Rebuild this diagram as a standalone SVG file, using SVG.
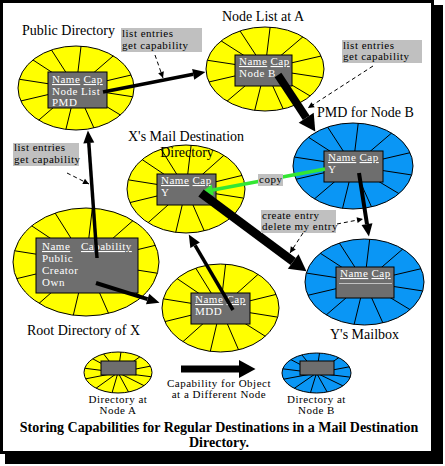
<svg xmlns="http://www.w3.org/2000/svg" xmlns:xlink="http://www.w3.org/1999/xlink" width="445" height="466" viewBox="0 0 445 466">
<style>
.lbl{font-family:"Liberation Serif","Times New Roman",serif;font-size:14px;fill:#000}
.sm{font-family:"Liberation Serif","Times New Roman",serif;font-size:11px;letter-spacing:0.5px;fill:#000}
.bx{font-family:"Liberation Serif","Times New Roman",serif;font-size:11px;letter-spacing:0.5px;fill:#fff}
.ttl{font-family:"Liberation Serif","Times New Roman",serif;font-size:14px;font-weight:bold;fill:#000}
.u{text-decoration:underline}
.yel{fill:#ffff00;stroke:#000;stroke-width:1}
.blu{fill:#0a96f5;stroke:#000;stroke-width:1}
.box{fill:#6e6e6e;stroke:#000;stroke-width:1}
.note{fill:#c0c0c0}
.arr{stroke:#000;fill:none}
.lead{stroke:#000;stroke-width:1;stroke-dasharray:4 3;fill:none}
</style>
<defs>
<g id="sp" stroke="#000" stroke-width="1">
<line x1="0" y1="0" x2="-0.423" y2="-0.906" vector-effect="non-scaling-stroke"/>
<line x1="0" y1="0" x2="0.087" y2="-0.996" vector-effect="non-scaling-stroke"/>
<line x1="0" y1="0" x2="0.643" y2="-0.766" vector-effect="non-scaling-stroke"/>
<line x1="0" y1="0" x2="0.951" y2="-0.309" vector-effect="non-scaling-stroke"/>
<line x1="0" y1="0" x2="0.978" y2="0.208" vector-effect="non-scaling-stroke"/>
<line x1="0" y1="0" x2="0.766" y2="0.643" vector-effect="non-scaling-stroke"/>
<line x1="0" y1="0" x2="0.309" y2="0.951" vector-effect="non-scaling-stroke"/>
<line x1="0" y1="0" x2="-0.174" y2="0.985" vector-effect="non-scaling-stroke"/>
<line x1="0" y1="0" x2="-0.643" y2="0.766" vector-effect="non-scaling-stroke"/>
<line x1="0" y1="0" x2="-0.951" y2="0.309" vector-effect="non-scaling-stroke"/>
<line x1="0" y1="0" x2="-0.978" y2="-0.208" vector-effect="non-scaling-stroke"/>
<line x1="0" y1="0" x2="-0.743" y2="-0.669" vector-effect="non-scaling-stroke"/>
</g>
<marker id="ah" markerUnits="userSpaceOnUse" orient="auto" markerWidth="20" markerHeight="20" refX="0" refY="0" viewBox="-1 -10 20 20" overflow="visible">
<path d="M0,-5.5 L12.5,0 L0,5.5 Z" fill="#000"/>
</marker>
<marker id="ahb" markerUnits="userSpaceOnUse" orient="auto" markerWidth="24" markerHeight="24" refX="0" refY="0" viewBox="-1 -12 24 24" overflow="visible">
<path d="M0,-9 L16.5,0 L0,9 Z" fill="#000"/>
</marker>
<marker id="ahg" markerUnits="userSpaceOnUse" orient="auto" markerWidth="20" markerHeight="20" refX="0" refY="0" viewBox="-1 -10 20 20" overflow="visible">
<path d="M0,-5.5 L11.5,0 L0,5.5 Z" fill="#33e633"/>
</marker>
<marker id="ahs" markerUnits="userSpaceOnUse" orient="auto" markerWidth="12" markerHeight="12" refX="0" refY="0" viewBox="-1 -6 12 12" overflow="visible">
<path d="M-6,-3 L0,0 L-6,3 Z" fill="#000"/>
</marker>
</defs>

<!-- frame -->
<rect x="5" y="5" width="438" height="459" fill="#000"/>
<rect x="1.5" y="1.5" width="431" height="451" fill="#fff" stroke="#000" stroke-width="3"/>

<g id="public-directory">
<ellipse class="yel" cx="76" cy="88" rx="58" ry="42"/>
<use xlink:href="#sp" href="#sp" transform="translate(76 88) scale(58 42)"/>
<rect class="box" x="48" y="72" width="59" height="36"/>
<text class="bx" x="52" y="83"><tspan class="u">Name</tspan> <tspan class="u">Cap</tspan></text>
<text class="bx" x="52" y="95">Node List</text>
<text class="bx" x="52" y="106">PMD</text>
<text class="lbl" x="22" y="35">Public Directory</text>
</g>

<g id="node-list-a">
<ellipse class="yel" cx="265" cy="69" rx="59" ry="42"/>
<use xlink:href="#sp" href="#sp" transform="translate(265 69) scale(59 42)"/>
<rect class="box" x="235" y="55" width="57" height="31"/>
<text class="bx" x="239" y="65"><tspan class="u">Name</tspan> <tspan class="u">Cap</tspan></text>
<text class="bx" x="239" y="77">Node B</text>
<text class="lbl" x="222" y="21">Node List at A</text>
</g>

<g id="pmd-node-b">
<ellipse class="blu" cx="353" cy="166" rx="60" ry="43"/>
<use xlink:href="#sp" href="#sp" transform="translate(353 166) scale(60 43)"/>
<rect class="box" x="324" y="151" width="59" height="31"/>
<text class="bx" x="328" y="161"><tspan class="u">Name</tspan> <tspan class="u">Cap</tspan></text>
<text class="bx" x="328" y="173">Y</text>
<text class="lbl" x="317" y="117">PMD for Node B</text>
</g>

<g id="x-mail-destination-directory">
<ellipse class="yel" cx="186" cy="189" rx="59" ry="44"/>
<use xlink:href="#sp" href="#sp" transform="translate(186 189) scale(59 44)"/>
<rect class="box" x="157" y="174" width="59" height="31"/>
<text class="bx" x="161" y="184"><tspan class="u">Name</tspan> <tspan class="u">Cap</tspan></text>
<text class="bx" x="161" y="196">Y</text>
<text class="lbl" x="128" y="141">X's Mail Destination</text>
<text class="lbl" x="187" y="157" text-anchor="middle">Directory</text>
</g>

<g id="root-directory-x">
<ellipse class="yel" cx="86" cy="262" rx="73" ry="54"/>
<use xlink:href="#sp" href="#sp" transform="translate(86 262) scale(73 54)"/>
<rect class="box" x="36" y="238" width="102" height="55"/>
<text class="bx" x="42" y="250"><tspan class="u">Name</tspan></text>
<text class="bx" x="81" y="250"><tspan class="u">Capability</tspan></text>
<text class="bx" x="42" y="262">Public</text>
<text class="bx" x="42" y="274" letter-spacing="0.8">Creator</text>
<text class="bx" x="42" y="286" letter-spacing="1">Own</text>
<text class="lbl" x="27" y="335">Root Directory of X</text>
</g>

<g id="mdd">
<ellipse class="yel" cx="220.5" cy="308" rx="58.5" ry="44"/>
<use xlink:href="#sp" href="#sp" transform="translate(220.5 308) scale(58.5 44)"/>
<rect class="box" x="191" y="293" width="59" height="31"/>
<text class="bx" x="195" y="303"><tspan class="u">Name</tspan> <tspan class="u">Cap</tspan></text>
<text class="bx" x="195" y="315" letter-spacing="1">MDD</text>
</g>

<g id="y-mailbox">
<ellipse class="blu" cx="364.5" cy="282" rx="59.5" ry="43"/>
<use xlink:href="#sp" href="#sp" transform="translate(364.5 282) scale(59.5 43)"/>
<rect class="box" x="336" y="267" width="58" height="31"/>
<text class="bx" x="340" y="277"><tspan class="u">Name</tspan> <tspan class="u">Cap</tspan></text>
<line x1="339" y1="283.5" x2="392" y2="283.5" stroke="#d8d8d8" stroke-width="0.8"/>
<text class="lbl" x="330" y="339">Y's Mailbox</text>
</g>

<g id="connectors">
<line class="arr" x1="103" y1="92" x2="193.2" y2="74.3" stroke-width="3.5" marker-end="url(#ah)"/>
<line class="arr" x1="278" y1="75" x2="306.2" y2="117.7" stroke-width="8" marker-end="url(#ahb)"/>
<line class="arr" x1="359" y1="173" x2="367" y2="224.2" stroke-width="4" marker-end="url(#ah)"/>
<line x1="325" y1="169" x2="212.8" y2="190" stroke="#33e633" stroke-width="3.5" marker-end="url(#ahg)"/>
<line class="arr" x1="201" y1="193" x2="293.2" y2="261.5" stroke-width="9" marker-end="url(#ahb)"/>
<line class="arr" x1="233" y1="310" x2="195.1" y2="245.3" stroke-width="3.5" marker-end="url(#ah)"/>
<line class="arr" x1="97" y1="258" x2="88.8" y2="143" stroke-width="3.5" marker-end="url(#ah)"/>
<line class="arr" x1="96" y1="283" x2="147.6" y2="299.1" stroke-width="4" marker-end="url(#ah)"/>
<line class="lead" x1="155" y1="55" x2="163" y2="78" marker-end="url(#ahs)"/>
<line class="lead" x1="373" y1="66" x2="308" y2="108" marker-end="url(#ahs)"/>
<line class="lead" x1="67" y1="173" x2="89" y2="184" marker-end="url(#ahs)"/>
<line class="lead" x1="337" y1="224" x2="363" y2="219" marker-end="url(#ahs)"/>
<line class="lead" x1="303" y1="233" x2="290" y2="253" marker-end="url(#ahs)"/>
</g>

<g id="notes">
<rect class="note" x="121" y="28" width="81" height="24"/>
<text class="sm" x="122" y="37">list entries</text>
<text class="sm" x="122" y="49">get capability</text>
<rect class="note" x="342" y="40" width="80" height="23"/>
<text class="sm" x="343" y="49">list entries</text>
<text class="sm" x="343" y="60">get capability</text>
<rect class="note" x="13" y="143" width="66" height="23"/>
<text class="sm" x="14" y="151" letter-spacing="0.2">list entries</text>
<text class="sm" x="14" y="163" letter-spacing="0.2">get capability</text>
<rect class="note" x="258" y="174" width="25" height="12"/>
<text class="sm" x="259" y="183">copy</text>
<rect class="note" x="261" y="210" width="75" height="23"/>
<text class="sm" x="262" y="219" letter-spacing="0.4">create entry</text>
<text class="sm" x="262" y="230" letter-spacing="0.4">delete my entry</text>
</g>

<g id="legend">
<g id="legend-node-a">
<ellipse class="yel" cx="118" cy="372.5" rx="34" ry="20.5"/>
<use xlink:href="#sp" href="#sp" transform="translate(118 372.5) scale(34 20.5)"/>
<rect class="box" x="101" y="361" width="35" height="14"/>
<text class="sm" x="118" y="403" text-anchor="middle" letter-spacing="0.8">Directory at</text>
<text class="sm" x="118" y="414" text-anchor="middle" letter-spacing="0.8">Node A</text>
</g>
<g id="legend-arrow">
<line class="arr" x1="181" y1="369" x2="239" y2="369" stroke-width="7" marker-end="url(#ahb)"/>
<text class="sm" x="219" y="387" text-anchor="middle" letter-spacing="0.8">Capability  for Object</text>
<text class="sm" x="219" y="398" text-anchor="middle" letter-spacing="0.8">at a Different Node</text>
</g>
<g id="legend-node-b">
<ellipse class="blu" cx="316.5" cy="373" rx="34.5" ry="20"/>
<use xlink:href="#sp" href="#sp" transform="translate(316.5 373) scale(34.5 20)"/>
<rect class="box" x="300" y="361" width="34" height="14"/>
<text class="sm" x="316.5" y="403" text-anchor="middle" letter-spacing="0.8">Directory at</text>
<text class="sm" x="316.5" y="414" text-anchor="middle" letter-spacing="0.8">Node B</text>
</g>
</g>

<g id="title">
<text class="ttl" x="219" y="432" text-anchor="middle">Storing Capabilities for Regular Destinations in a Mail Destination</text>
<text class="ttl" x="219" y="447" text-anchor="middle">Directory.</text>
</g>
</svg>
